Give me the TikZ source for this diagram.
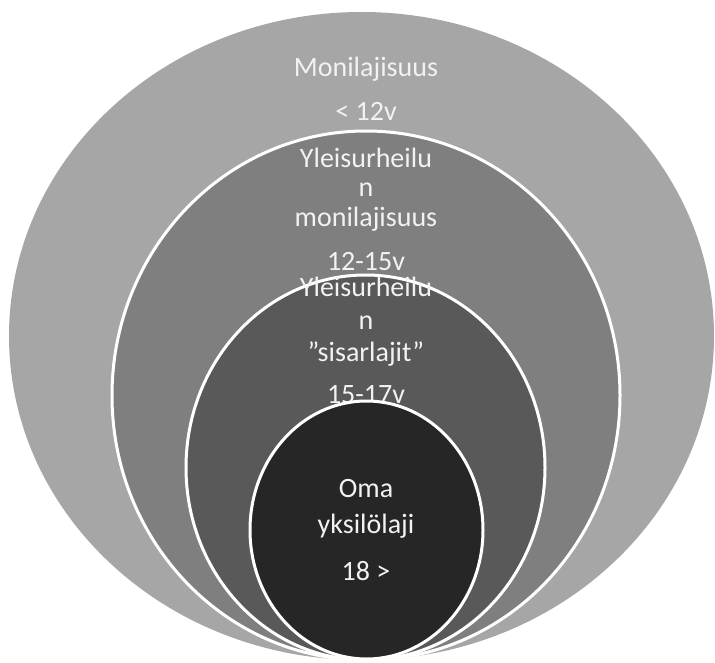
\documentclass[tikz,border=0pt]{standalone}
\usepackage{fontspec}
\setmainfont{Carlito}
\definecolor{ringA}{HTML}{A6A6A6}
\definecolor{ringB}{HTML}{7F7F7F}
\definecolor{ringC}{HTML}{595959}
\definecolor{ringD}{HTML}{262626}
\definecolor{labeltext}{HTML}{F2F2F2}
\begin{document}
\begin{tikzpicture}[
            x=1pt,
            y=-1pt,
            ring/.style={draw=white, line width=3pt},
            lbl/.style={anchor=base, inner sep=0pt, text=labeltext,
                font=\fontsize{28}{33}\selectfont}
        ]
        \useasboundingbox (0,0) rectangle (715,663);

        % outer ring
        \fill[ringA] (361.5,336) ellipse [x radius=352.5, y radius=324];
        \node[lbl] (outerA) at (366,77) {Monilajisuus};
        \node[lbl] (outerB) at (366,121) {< 12v};

        % second ring
        \draw[ring, fill=ringB] (366,395.5) ellipse [x radius=254, y radius=264.5];
        \node[lbl] (secA) at (366,167.7) {Yleisurheilu};
        \node[lbl] (secB) at (366,196.7) {n};
        \node[lbl] (secC) at (366,226.7) {monilajisuus};
        \node[lbl] (secD) at (366,270) {12-15v};

        % third ring
        \draw[ring, fill=ringC] (365.5,467.5) ellipse [x radius=179.5, y radius=192.5];
        \node[lbl] (thirdA) at (366,296.7) {Yleisurheilu};
        \node[lbl] (thirdB) at (366,329) {n};
        \node[lbl] (thirdC) at (366,361) {\symbol{34}sisarlajit”};
        \node[lbl] (thirdD) at (366,403) {15-17v};

        % inner ring
        \draw[ring, fill=ringD] (366.5,530) ellipse [x radius=116.5, y radius=129];
        \node[lbl] (innerA) at (366,497) {Oma};
        \node[lbl] (innerB) at (366,533) {yksilölaji};
        \node[lbl] (innerC) at (366,580) {18 >};
    \end{tikzpicture}
\end{document}
